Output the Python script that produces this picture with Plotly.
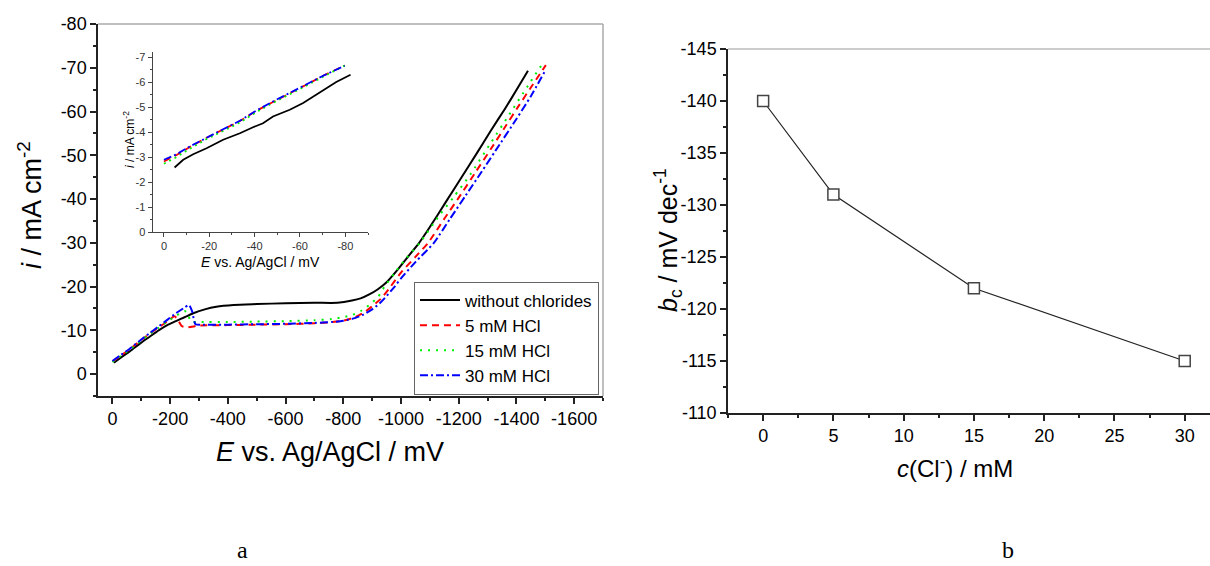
import plotly.graph_objects as go

W, H = 1210, 566

# ---------------- data: panel a (main) ----------------
E_black = [-5, -30, -60, -100, -130, -160, -190, -220, -250, -280, -320, -360, -420, -500, -600, -700,
           -780, -830, -860, -890, -920, -950, -990, -1030, -1063, -1100, -1155, -1210, -1263, -1310,
           -1361, -1400, -1440]
i_black = [-2.6, -3.8, -5.2, -7.2, -8.6, -10.0, -11.2, -12.1, -13.0, -13.9, -14.8, -15.4, -15.8, -16.0,
           -16.2, -16.3, -16.3, -16.8, -17.3, -18.2, -19.4, -21.0, -24.0, -27.3, -30.0, -33.6, -39.3,
           -45.0, -50.5, -55.5, -60.7, -64.9, -69.3]

E_red = [0, -30, -60, -100, -130, -160, -190, -215, -225, -240, -260, -300, -400, -500, -600, -700,
         -760, -800, -840, -870, -900, -930, -964, -1000, -1050, -1094, -1150, -1203, -1260, -1313,
         -1360, -1405, -1450, -1502]
i_red = [-2.9, -4.3, -5.7, -7.8, -9.3, -10.7, -12.0, -13.2, -12.6, -11.0, -10.7, -11.1, -11.2, -11.3,
         -11.4, -11.6, -11.9, -12.2, -13.0, -14.0, -15.5, -17.2, -20.0, -23.2, -26.8, -30.0, -35.5,
         -40.6, -46.3, -51.6, -56.4, -61.0, -65.5, -70.6]

E_green = [0, -30, -60, -100, -130, -160, -190, -220, -250, -260, -272, -300, -400, -500, -600, -700,
           -760, -800, -830, -860, -890, -920, -943, -980, -1020, -1065, -1130, -1183, -1240, -1306,
           -1374, -1440, -1495]
i_green = [-2.8, -4.2, -5.6, -7.7, -9.2, -10.6, -12.0, -13.3, -14.4, -14.0, -12.0, -11.9, -11.9, -12.0,
           -12.1, -12.3, -12.6, -13.0, -13.5, -14.4, -15.8, -17.6, -20.0, -23.3, -26.6, -30.0, -36.0,
           -40.5, -45.6, -52.3, -59.2, -65.9, -71.4]

E_blue = [0, -30, -60, -100, -130, -160, -190, -220, -250, -265, -276, -288, -320, -400, -500, -600,
          -700, -760, -800, -840, -870, -900, -930, -978, -1000, -1050, -1114, -1170, -1224, -1280,
          -1327, -1400, -1450, -1497]
i_blue = [-3.0, -4.4, -5.8, -7.9, -9.4, -10.9, -12.4, -13.9, -15.2, -15.8, -14.4, -11.4, -11.3, -11.3,
          -11.4, -11.5, -11.7, -11.9, -12.2, -12.8, -13.6, -14.8, -16.4, -20.0, -21.9, -25.6, -30.0,
          -35.5, -40.8, -46.3, -51.0, -58.3, -63.5, -69.0]

# ---------------- data: panel a (inset) ----------------
Ein_black = [-4.7, -8.5, -12.9, -18.8, -26.1, -33.5, -39.3, -43.7, -48.1, -55.5, -61.4, -65.8, -70.2,
             -76.0, -82.3]
iin_black = [-2.58, -2.89, -3.11, -3.35, -3.69, -3.95, -4.19, -4.35, -4.62, -4.89, -5.16, -5.42, -5.69,
             -6.0, -6.29]
Ein_col = [0, -5.6, -11.4, -18.8, -26.1, -33.5, -40.8, -48.1, -55.5, -62.8, -70.2, -79.7]
iin_red = [-2.82, -3.08, -3.40, -3.77, -4.10, -4.44, -4.85, -5.21, -5.55, -5.89, -6.25, -6.66]
iin_green = [-2.73, -3.00, -3.33, -3.72, -4.04, -4.38, -4.80, -5.17, -5.51, -5.86, -6.22, -6.66]
iin_blue = [-2.89, -3.11, -3.42, -3.78, -4.11, -4.45, -4.86, -5.22, -5.56, -5.89, -6.25, -6.65]

# ---------------- data: panel b ----------------
c_cl = [0, 5, 15, 30]
b_c = [-140, -131, -122, -115]

# ---------------- tick labels ----------------
xa_vals = [0, -200, -400, -600, -800, -1000, -1200, -1400, -1600]
xa_text = ["0", "-200", "-400", "-600", "-800", "-1000", "-1200", "-1400", "-1600"]
ya_vals = [0, -10, -20, -30, -40, -50, -60, -70, -80]
ya_text = ["0", "-10", "-20", "-30", "-40", "-50", "-60", "-70", "-80"]
xin_vals = [0, -20, -40, -60, -80]
xin_text = ["0", "-20", "-40", "-60", "-80"]
yin_vals = [0, -1, -2, -3, -4, -5, -6, -7]
yin_text = ["0", "-1", "-2", "-3", "-4", "-5", "-6", "-7"]
xb_vals = [0, 5, 10, 15, 20, 25, 30]
xb_text = ["0", "5", "10", "15", "20", "25", "30"]
yb_vals = [-145, -140, -135, -130, -125, -120, -115, -110]
yb_text = ["-145", "-140", "-135", "-130", "-125", "-120", "-115", "-110"]

series_names = ["without chlorides", "5 mM HCl", "15 mM HCl", "30 mM HCl"]

FONT = "Liberation Sans, Arial, sans-serif"

def px(x):
    return x / W

def py(y):
    return 1 - y / H

fig = go.Figure()

styles = [
    ("black", "solid"),
    ("#ff0000", "7px,5px"),
    ("#00ee00", "2px,6px"),
    ("#0000ff", "8px,3px,2px,3px"),
]
main_data = [(E_black, i_black), (E_red, i_red), (E_green, i_green), (E_blue, i_blue)]
for (ex, iy), name, (col, dash) in zip(main_data, series_names, styles):
    fig.add_trace(go.Scatter(x=ex, y=iy, mode="lines", name=name,
                             line=dict(color=col, width=2, dash=dash, shape="spline", smoothing=0.6),
                             xaxis="x", yaxis="y"))

inset_data = [(Ein_black, iin_black), (Ein_col, iin_red), (Ein_col, iin_green), (Ein_col, iin_blue)]
for (ex, iy), (col, dash) in zip(inset_data, styles):
    fig.add_trace(go.Scatter(x=ex, y=iy, mode="lines", showlegend=False,
                             line=dict(color=col, width=1.8, dash=dash if dash != "2px,6px" else "2px,4px"),
                             xaxis="x2", yaxis="y2"))

fig.add_trace(go.Scatter(x=c_cl, y=b_c, mode="lines+markers", showlegend=False,
                         line=dict(color="#222", width=1.2),
                         marker=dict(symbol="square", size=11, color="white",
                                     line=dict(color="#444", width=1.5)),
                         xaxis="x3", yaxis="y3"))

axcommon = dict(showgrid=False, zeroline=False, showline=True, linecolor="#222", linewidth=1.5,
                ticks="outside", tickcolor="#222", tickwidth=1.5, ticklen=6, tickmode="array",
                automargin=False,
                tickfont=dict(family=FONT, size=18, color="black"))
inset_common = dict(showgrid=False, zeroline=False, showline=True, linecolor="#444", linewidth=1,
                    ticks="outside", tickcolor="#444", ticklen=4, tickwidth=1, tickmode="array",
                    automargin=False,
                    tickfont=dict(family=FONT, size=11, color="#333"))

fig.update_layout(
    width=W, height=H,
    margin=dict(l=0, r=0, t=0, b=0, pad=0, autoexpand=False),
    paper_bgcolor="white", plot_bgcolor="rgba(0,0,0,0)",
    font=dict(family=FONT, color="black"),
    xaxis=dict(**axcommon, domain=[px(98), px(603)], anchor="y", range=[50, -1700],
               tickvals=xa_vals, ticktext=xa_text,
               minor=dict(ticks="outside", ticklen=3, tickcolor="#222", tickwidth=1.5,
                          tickmode="linear", tick0=0, dtick=100)),
    yaxis=dict(**axcommon, domain=[py(396), py(24)], anchor="x", range=[5, -80],
               tickvals=ya_vals, ticktext=ya_text,
               minor=dict(ticks="outside", ticklen=3, tickcolor="#222", tickwidth=1.5,
                          tickmode="linear", tick0=0, dtick=5)),
    xaxis2=dict(**inset_common, tickvals=xin_vals, ticktext=xin_text,
                domain=[px(152.6), px(368)], anchor="y2", range=[5, -90],
                minor=dict(ticks="outside", ticklen=2, tickcolor="#444", tickmode="linear",
                           tick0=0, dtick=10)),
    yaxis2=dict(**inset_common, tickvals=yin_vals, ticktext=yin_text,
                domain=[py(232), py(52)], anchor="x2", range=[0, -7.2],
                minor=dict(ticks="outside", ticklen=2, tickcolor="#444", tickmode="linear",
                           tick0=0, dtick=0.5)),
    xaxis3=dict(**axcommon, domain=[px(728), 1.0], anchor="y3", range=[-2.5, 31.8],
                tickvals=xb_vals, ticktext=xb_text,
                minor=dict(ticks="outside", ticklen=3, tickcolor="#222", tickwidth=1.5,
                           tickmode="linear", tick0=0, dtick=2.5)),
    yaxis3=dict(**axcommon, domain=[py(413), py(49)], anchor="x3", range=[-110, -145],
                tickvals=yb_vals, ticktext=yb_text,
                minor=dict(ticks="outside", ticklen=3, tickcolor="#222", tickwidth=1.5,
                           tickmode="linear", tick0=0, dtick=2.5)),
    legend=dict(x=px(599), xanchor="right", y=py(338), yanchor="middle",
                bordercolor="#666", borderwidth=1, bgcolor="white",
                font=dict(family=FONT, size=17, color="black"),
                tracegroupgap=0, itemwidth=40),
    showlegend=True,
)

# grey frame lines (top / right)
fig.add_shape(type="line", xref="x domain", yref="y domain", x0=0, x1=1, y0=1, y1=1,
              line=dict(color="#aaa", width=1.5))
fig.add_shape(type="line", xref="x domain", yref="y domain", x0=1, x1=1, y0=0, y1=1,
              line=dict(color="#aaa", width=1.5))
fig.add_shape(type="line", xref="x3 domain", yref="y3 domain", x0=0, x1=1, y0=1, y1=1,
              line=dict(color="#bbb", width=1.5))

ann = [
    dict(text="<i>i</i> / mA cm<sup>-2</sup>", x=px(30), y=py(205), textangle=-90, size=27),
    dict(text="<i>E</i> vs. Ag/AgCl / mV", x=px(330), y=py(452), textangle=0, size=27),
    dict(text="<i>i</i> / mA cm<sup>-2</sup>", x=px(129), y=py(140), textangle=-90, size=12),
    dict(text="<i>E</i> vs. Ag/AgCl / mV", x=px(260), y=py(262), textangle=0, size=14),
    dict(text="<i>b</i><sub>c</sub> / mV dec<sup>-1</sup>", x=px(668), y=py(240), textangle=-90, size=25),
    dict(text="<i>c</i>(Cl<sup>-</sup>) / mM", x=px(955), y=py(467), textangle=0, size=24),
]
for a in ann:
    fig.add_annotation(text=a["text"], x=a["x"], y=a["y"], xref="paper", yref="paper",
                       xanchor="center", yanchor="middle", showarrow=False, textangle=a["textangle"],
                       font=dict(family=FONT, size=a["size"], color="black"))

for lab, xx in (("a", 243), ("b", 1008)):
    fig.add_annotation(text=lab, x=px(xx), y=py(550), xref="paper", yref="paper",
                       xanchor="center", yanchor="middle", showarrow=False,
                       font=dict(family="Liberation Serif, Times New Roman, serif", size=24, color="black"))

fig.write_html("out.html", config={"displayModeBar": False},
               post_script="document.body.style.margin='0px';document.body.style.overflow='hidden';")
